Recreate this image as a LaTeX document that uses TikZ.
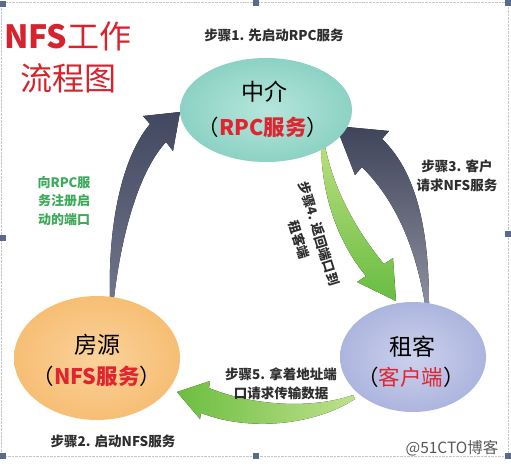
\documentclass[tikz,border=0pt]{standalone}
\usepackage{fontspec}
\newfontfamily\cjk{Noto Sans CJK SC}
\usetikzlibrary{shapes.geometric}
\definecolor{titlered}{HTML}{D6232D}
\definecolor{labred}{HTML}{E02430}
\definecolor{steptext}{HTML}{2E2E2E}
\definecolor{regtext}{HTML}{3DA95A}
\definecolor{handlecol}{HTML}{5B6A8A}
\begin{document}
\begin{tikzpicture}[x=1pt,y=-1pt,
  every node/.style={inner sep=0pt},
  steplabel/.style={font=\cjk\bfseries\fontsize{13.5}{19.5}\selectfont, text=steptext, align=center},
  reglabel/.style={font=\cjk\bfseries\fontsize{13}{18.5}\selectfont, text=regtext, align=center},
  bigname/.style={font=\cjk\fontsize{23}{26}\selectfont, text=black},
  subname/.style={font=\cjk\fontsize{21.5}{24}\selectfont, text=black},
  bubble/.style={ellipse, inner sep=0pt, shading=radial},
  handle/.style={fill=handlecol, minimum size=6pt, inner sep=0pt}]
\useasboundingbox (0,0) rectangle (511,466);
\fill[white] (0,0) rectangle (511,466);
% selection frame
\draw[gray!45, densely dotted] (1,2) rectangle (508,456);
\foreach \n/\p in {h1/{(3,4)},h2/{(256,3)},h3/{(508,3)},h4/{(3,238)},h5/{(508,234)},h6/{(3,456)},h7/{(256,456)},h8/{(508,456)}}
  \node[handle] (\n) at \p {};
% title
\node[anchor=west, font=\cjk\fontsize{32}{34}\selectfont, text=titlered] (title1) at (4,36) {{\bfseries NFS}工作};
\node[anchor=west, font=\cjk\fontsize{32}{34}\selectfont, text=titlered] (title2) at (20,78) {流程图};
% arrows (drawn first)
\coordinate (a1tail) at (112,298);
\coordinate (a1tip) at (180,112);
\fill[top color={rgb,255:red,66;green,72;blue,96}, bottom color={rgb,255:red,112;green,117;blue,138}]
  (110,298) .. controls (108,230) and (120,160) .. (150,124) -- (143,116) -- (a1tip) -- (173,151) -- (166,142)
  .. controls (140,170) and (122,230) .. (114,298) -- cycle;
\coordinate (a2tail) at (427,304);
\coordinate (a2tip) at (336,126);
\fill[top color={rgb,255:red,62;green,68;blue,90}, bottom color={rgb,255:red,140;green,143;blue,157}]
  (429,304) .. controls (429,240) and (420,175) .. (382,139) -- (389,131) -- (a2tip) -- (355,175) -- (362,167)
  .. controls (395,200) and (415,245) .. (425,304) -- cycle;
\coordinate (a3tail) at (323,146);
\coordinate (a3tip) at (396,301);
\fill[top color={rgb,255:red,185;green,222;blue,125}, bottom color={rgb,255:red,104;green,189;blue,66}]
  (321,146) .. controls (322,200) and (340,245) .. (366,276) -- (357,282) -- (a3tip) -- (393,258) -- (384,264)
  .. controls (360,235) and (335,195) .. (325,146) -- cycle;
\coordinate (a4tail) at (354,397);
\coordinate (a4tip) at (177,392);
\fill[left color={rgb,255:red,108;green,190;blue,64}, right color={rgb,255:red,190;green,225;blue,140}]
  (353,395) .. controls (310,410) and (250,405) .. (209,388) -- (210,381) -- (a4tip) -- (200,419) -- (201,413)
  .. controls (250,432) and (315,425) .. (355,399) -- cycle;
% bubbles
\node[bubble, minimum width=172pt, minimum height=104pt, inner color={rgb,255:red,182;green,230;blue,219}, outer color={rgb,255:red,140;green,210;blue,196}] (rpc) at (266,110) {};
\node[bubble, minimum width=166pt, minimum height=124pt, inner color={rgb,255:red,250;green,210;blue,156}, outer color={rgb,255:red,247;green,190;blue,116}] (nfs) at (97,358) {};
\node[bubble, minimum width=146pt, minimum height=110pt, inner color={rgb,255:red,204;green,209;blue,237}, outer color={rgb,255:red,172;green,181;blue,222}] (cli) at (413,357) {};
% bubble texts
\node[bigname] (rpcname) at (264,92) {中介};
\node[subname] (rpcsub) at (263,127) {（\textcolor{labred}{\bfseries RPC服务}）};
\node[bigname] (nfsname) at (97,345) {房源};
\node[subname] (nfssub) at (97,376) {（\textcolor{labred}{\bfseries NFS服务}）};
\node[bigname] (cliname) at (412,347) {租客};
\node[subname] (clisub) at (411,377) {（\textcolor{labred}{客户端}）};
% step labels
\node[steplabel] (s1) at (274,35) {步骤1. 先启动RPC服务};
\node[steplabel] (s2) at (113,441) {步骤2. 启动NFS服务};
\node[steplabel] (s3) at (457,176) {步骤3. 客户\\请求NFS服务};
\node[steplabel, font=\cjk\bfseries\fontsize{13}{21}\selectfont, rotate=-73] (s4) at (309,237) {步骤4. 返回端口到\\租客端};
\node[steplabel] (s5) at (281,384) {步骤5. 拿着地址端\\口请求传输数据};
\node[reglabel] (reg) at (64,201) {向RPC服\\务注册启\\动的端口};
% watermark
\node[font=\cjk\fontsize{15.5}{18}\selectfont, text=black!65] (wm) at (452,448) {@51CTO博客};
\end{tikzpicture}
\end{document}
